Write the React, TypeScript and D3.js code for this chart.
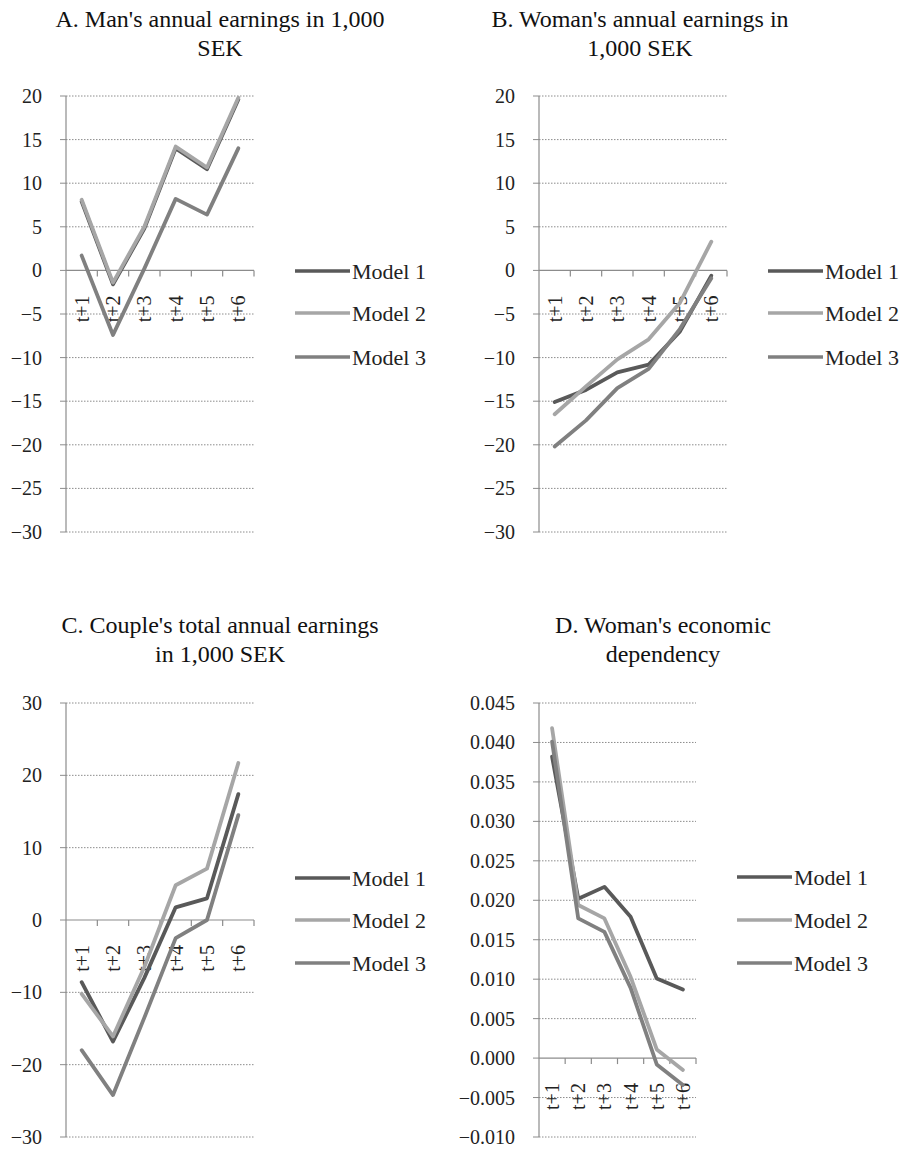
import React from "react";
import * as d3 from "d3";

// categories / series
const periods = ["t+1", "t+2", "t+3", "t+4", "t+5", "t+6"];
const models = ["Model 1", "Model 2", "Model 3"];

const manModel1 = [7.9, -1.6, 4.8, 14.0, 11.6, 19.6];
const manModel2 = [8.1, -1.4, 5.0, 14.2, 11.8, 19.8];
const manModel3 = [1.7, -7.4, 0.2, 8.2, 6.4, 14.0];

const womanModel1 = [-15.1, -13.7, -11.7, -10.8, -7.0, -0.6];
const womanModel2 = [-16.5, -13.3, -10.2, -7.9, -3.7, 3.3];
const womanModel3 = [-20.2, -17.2, -13.5, -11.3, -6.7, -0.9];

const coupleModel1 = [-8.6, -16.8, -8.0, 1.75, 3.0, 17.4];
const coupleModel2 = [-10.2, -16.1, -6.5, 4.8, 7.1, 21.7];
const coupleModel3 = [-18.0, -24.2, -13.5, -2.5, 0.0, 14.5];

const depModel1 = [0.0382, 0.0202, 0.0217, 0.0179, 0.0101, 0.0087];
const depModel2 = [0.0418, 0.0194, 0.0177, 0.0103, 0.0011, -0.0015];
const depModel3 = [0.0401, 0.0177, 0.016, 0.0089, -0.0008, -0.0034];

const earningsTicks = [20, 15, 10, 5, 0, -5, -10, -15, -20, -25, -30];
const coupleTicks = [30, 20, 10, 0, -10, -20, -30];
const depTicks = [0.045, 0.04, 0.035, 0.03, 0.025, 0.02, 0.015, 0.01, 0.005, 0, -0.005, -0.01];

const colors = ["#595959", "#a6a6a6", "#808080"];
const font = '"Liberation Serif", "Times New Roman", "DejaVu Serif", serif';

const panels = [
  {
    title: ["A. Man's annual earnings in 1,000", "SEK"],
    titleX: 220, titleY: 27,
    series: [manModel1, manModel2, manModel3],
    ticks: earningsTicks, fmt: d3.format("d"),
    x0: 66, x1: 254, y0: 96, y1: 532,
    legX: 295, legY: [271, 313, 357],
  },
  {
    title: ["B. Woman's annual earnings in", "1,000 SEK"],
    titleX: 640, titleY: 27,
    series: [womanModel1, womanModel2, womanModel3],
    ticks: earningsTicks, fmt: d3.format("d"),
    x0: 539, x1: 727, y0: 96, y1: 532,
    legX: 768, legY: [271, 313, 357],
  },
  {
    title: ["C. Couple's total annual earnings", "in 1,000 SEK"],
    titleX: 220, titleY: 633,
    series: [coupleModel1, coupleModel2, coupleModel3],
    ticks: coupleTicks, fmt: d3.format("d"),
    x0: 66, x1: 254, y0: 703, y1: 1137,
    legX: 295, legY: [878, 920, 963],
  },
  {
    title: ["D. Woman's economic", "dependency"],
    titleX: 663, titleY: 633,
    series: [depModel1, depModel2, depModel3],
    ticks: depTicks, fmt: d3.format(".3f"),
    x0: 539, x1: 696, y0: 703, y1: 1137,
    legX: 737, legY: [877, 920, 963],
  },
];

const txt = (size) => ({ fontFamily: font, fontSize: size + "px" });

const Panel = ({ p }) => {
  const x = d3.scaleBand().domain(periods).range([p.x0, p.x1]).padding(0);
  const y = d3
    .scaleLinear()
    .domain([d3.min(p.ticks), d3.max(p.ticks)])
    .range([p.y1, p.y0]);
  const zero = y(0);
  const line = d3
    .line()
    .x((d, i) => x(periods[i]) + x.bandwidth() / 2)
    .y((d) => y(d));

  return (
    <g>
      <text x={p.titleX} y={p.titleY} textAnchor="middle" style={txt(24)} fill="#111">
        {p.title.map((t, i) => (
          <tspan key={i} x={p.titleX} dy={i === 0 ? 0 : 29}>
            {t}
          </tspan>
        ))}
      </text>

      {/* gridlines + y ticks */}
      {p.ticks.map((t) => (
        <g key={t}>
          {t !== 0 && (
            <line
              x1={p.x0}
              x2={p.x1}
              y1={y(t)}
              y2={y(t)}
              stroke="#8c8c8c"
              strokeWidth={1}
              strokeDasharray="1.5,1.5"
            />
          )}
          <line x1={p.x0 - 6} x2={p.x0} y1={y(t)} y2={y(t)} stroke="#8c8c8c" />
          <text
            x={p.x0 - 24}
            y={y(t)}
            dy="0.35em"
            textAnchor="end"
            style={txt(20)}
            fill="#222"
          >
            {p.fmt(t)}
          </text>
        </g>
      ))}

      {/* y axis */}
      <line x1={p.x0} x2={p.x0} y1={p.y0} y2={p.y1} stroke="#8c8c8c" strokeWidth={1.2} />
      {/* x axis at zero */}
      <line x1={p.x0} x2={p.x1} y1={zero} y2={zero} stroke="#8c8c8c" strokeWidth={1.2} />
      {periods.map((c) => (
        <line
          key={c}
          x1={x(c) + x.bandwidth()}
          x2={x(c) + x.bandwidth()}
          y1={zero}
          y2={zero + 6}
          stroke="#8c8c8c"
          strokeWidth={1.2}
        />
      ))}
      {periods.map((c) => {
        const cx = x(c) + x.bandwidth() / 2;
        const cy = zero + 25;
        return (
          <text
            key={c}
            transform={`translate(${cx},${cy}) rotate(-90)`}
            dy="0.35em"
            textAnchor="end"
            style={txt(20)}
            fill="#222"
          >
            {c}
          </text>
        );
      })}

      {/* series */}
      {p.series.map((s, i) => (
        <path
          key={i}
          d={line(s)}
          fill="none"
          stroke={colors[i]}
          strokeWidth={3.8}
          strokeLinejoin="round"
          strokeLinecap="round"
        />
      ))}

      {/* legend */}
      {models.map((m, i) => (
        <g key={m}>
          <line
            x1={p.legX}
            x2={p.legX + 55}
            y1={p.legY[i]}
            y2={p.legY[i]}
            stroke={colors[i]}
            strokeWidth={3.6}
          />
          <text x={p.legX + 57} y={p.legY[i]} dy="0.35em" style={txt(22)} fill="#222">
            {m}
          </text>
        </g>
      ))}
    </g>
  );
};

export default function App() {
  return (
    <svg
      width={907}
      height={1150}
      style={{ position: "absolute", left: 0, top: 0, background: "#fff" }}
    >
      <rect width={907} height={1150} fill="#fff" />
      {panels.map((p, i) => (
        <Panel key={i} p={p} />
      ))}
    </svg>
  );
}
